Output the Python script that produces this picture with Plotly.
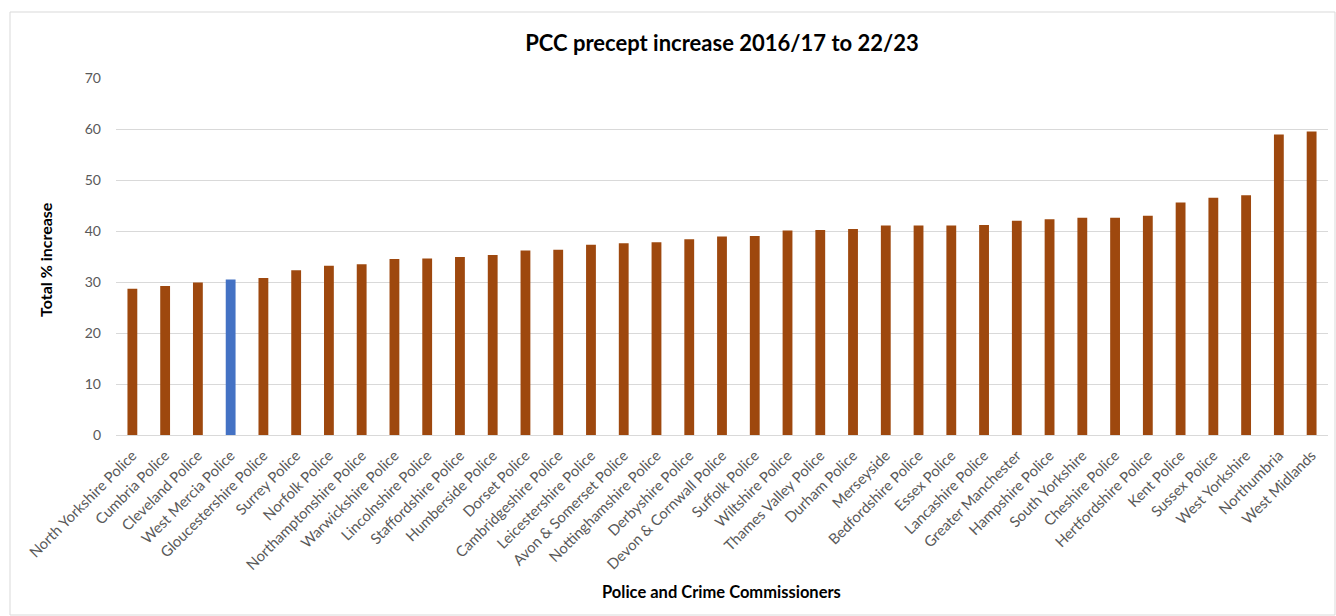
import plotly.graph_objects as go

categories = [
    "North Yorkshire Police", "Cumbria Police", "Cleveland Police", "West Mercia Police",
    "Gloucestershire Police", "Surrey Police", "Norfolk Police", "Northamptonshire Police",
    "Warwickshire Police", "Lincolnshire Police", "Staffordshire Police", "Humberside Police",
    "Dorset Police", "Cambridgeshire Police", "Leicestershire Police", "Avon & Somerset Police",
    "Nottinghamshire Police", "Derbyshire Police", "Devon & Cornwall Police", "Suffolk Police",
    "Wiltshire Police", "Thames Valley Police", "Durham Police", "Merseyside",
    "Bedfordshire Police", "Essex Police", "Lancashire Police", "Greater Manchester",
    "Hampshire Police", "South Yorkshire", "Cheshire Police", "Hertfordshire Police",
    "Kent Police", "Sussex Police", "West Yorkshire", "Northumbria", "West Midlands",
]
values = [
    28.7, 29.2, 29.9, 30.5, 30.8, 32.3, 33.2, 33.5, 34.5, 34.6, 34.9, 35.3,
    36.2, 36.3, 37.3, 37.6, 37.8, 38.4, 38.9, 39.0, 40.1, 40.2, 40.4, 41.1,
    41.1, 41.1, 41.2, 42.0, 42.3, 42.6, 42.6, 43.0, 45.6, 46.5, 47.0, 58.9, 59.5,
]
highlight = "West Mercia Police"

colors = ["#4472C4" if c == highlight else "#9E480E" for c in categories]

FONT = "Lato, 'Open Sans', sans-serif"

fig = go.Figure(go.Bar(
    x=categories, y=values,
    marker=dict(color=colors, line=dict(width=0)),
    hoverinfo="x+y",
))

fig.update_layout(
    width=1336, height=616,
    paper_bgcolor="white", plot_bgcolor="white",
    margin=dict(l=116, r=8, t=78, b=181),
    bargap=0.7,
    showlegend=False,
    font=dict(family=FONT, color="#595959"),
    title=dict(text="<b>PCC precept increase 2016/17 to 22/23</b>",
               x=0.5, xref="paper", xanchor="center",
               y=1 - 43 / 616, yanchor="middle",
               font=dict(size=22, color="#000000", family=FONT)),
    xaxis=dict(
        tickangle=-45, tickfont=dict(size=14.8, color="#595959", family=FONT),
        showgrid=False, showline=False, ticks="", zeroline=False,
        ticklabelstandoff=8,
    ),
    yaxis=dict(
        range=[0, 70], dtick=10, tickfont=dict(size=14, color="#595959", family=FONT),
        showgrid=True, gridcolor="#D9D9D9", gridwidth=1,
        zeroline=True, zerolinecolor="#D9D9D9", zerolinewidth=1,
        showline=False, ticks="", ticklabelstandoff=14,
    ),
    annotations=[
        dict(text="<b>Total % increase</b>", xref="paper", yref="paper",
             x=-71 / 1212, y=(435 - 260) / 357, xanchor="center", yanchor="middle",
             textangle=-90, showarrow=False,
             font=dict(size=16, color="#000000", family=FONT)),
        dict(text="<b>Police and Crime Commissioners</b>", xref="paper", yref="paper",
             x=(721 - 116) / 1212, y=-(592 - 435) / 357, xanchor="center", yanchor="middle",
             showarrow=False,
             font=dict(size=16.5, color="#000000", family=FONT)),
    ],
    shapes=[
        dict(type="rect", xref="paper", yref="paper",
             x0=-(116 - 10) / 1212, x1=(1335 - 116) / 1212,
             y0=-(615 - 435) / 357, y1=(435 - 12) / 357,
             line=dict(color="#D9D9D9", width=1), fillcolor="rgba(0,0,0,0)", layer="below"),
    ],
)

fig.write_html("out.html", config={"displayModeBar": False},
               post_script="document.body.style.margin='0';document.body.style.overflow='hidden';")
